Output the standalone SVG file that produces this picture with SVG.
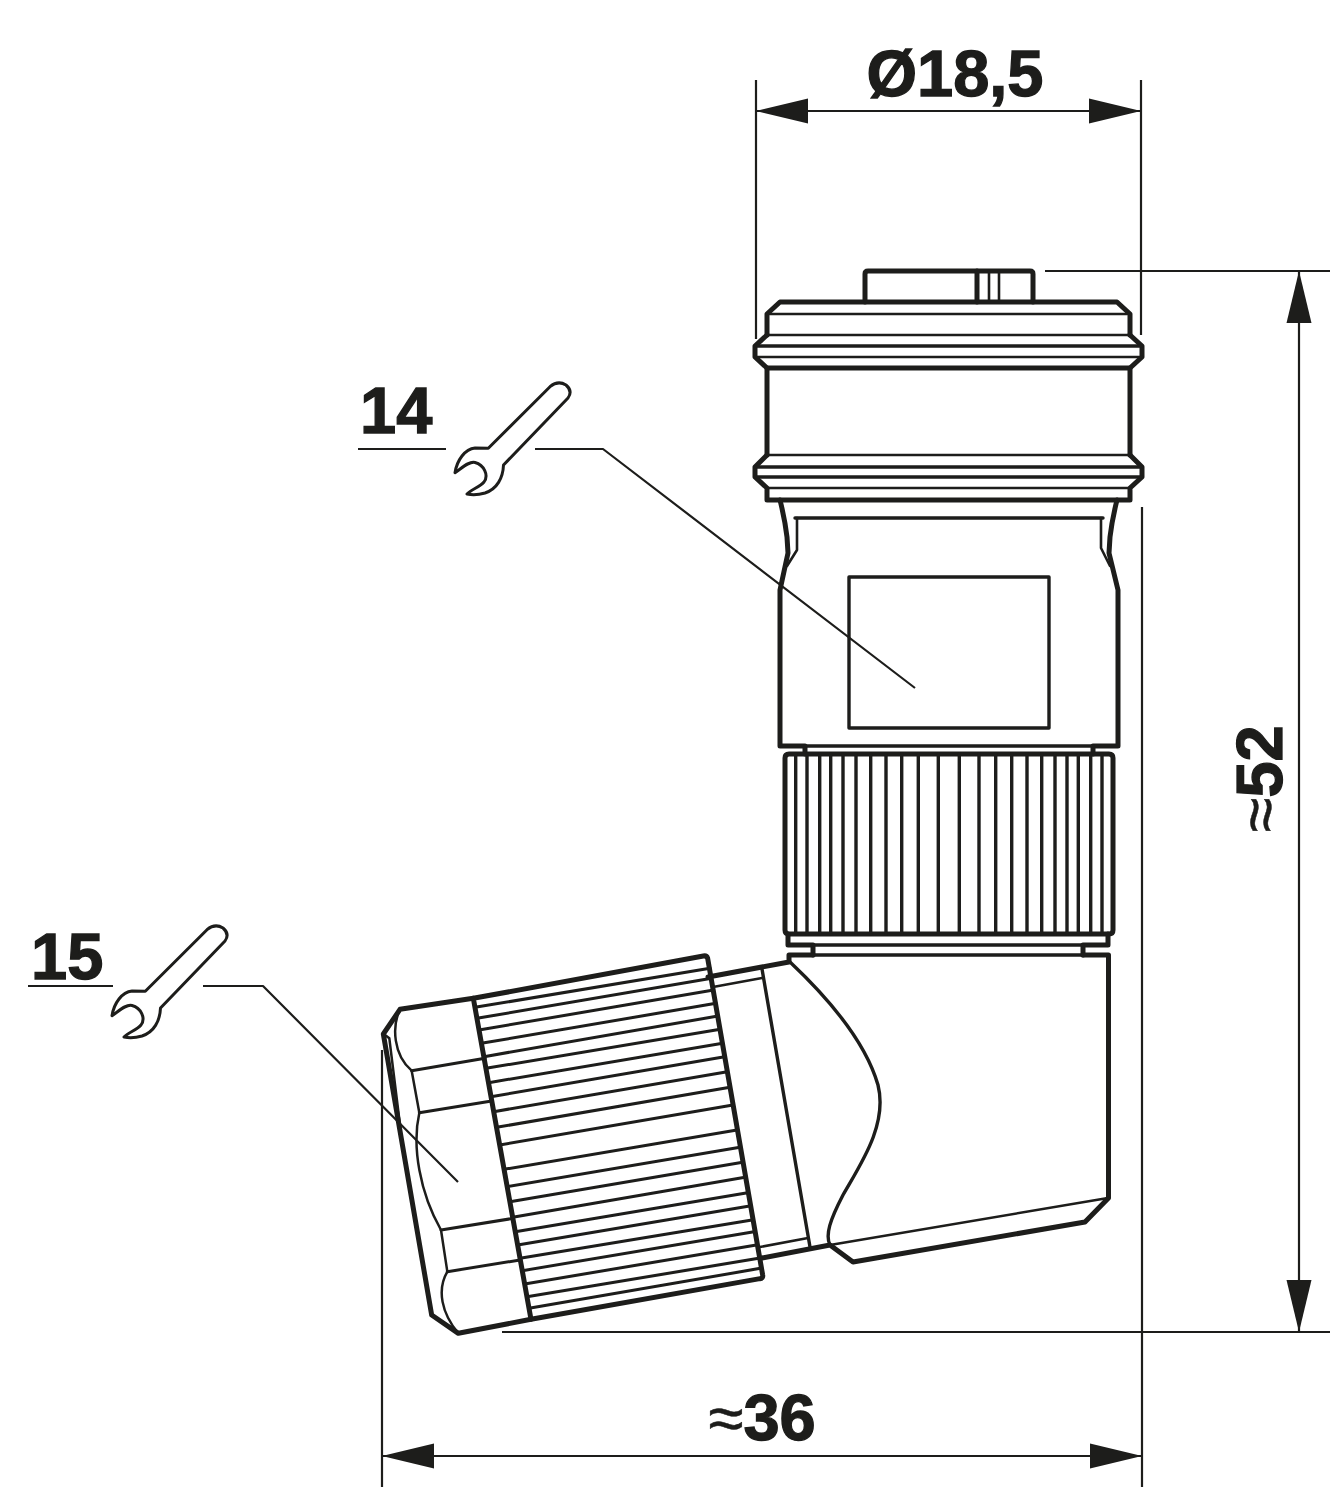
<svg xmlns="http://www.w3.org/2000/svg" width="1343" height="1500" viewBox="0 0 1343 1500">
<style>
text{font-family:"Liberation Sans",Arial,sans-serif;font-weight:700;font-size:65px;fill:#1d1d1b;stroke:#1d1d1b;stroke-width:1.3}
.approx{font-weight:400;font-size:64px;stroke-width:.5}
path,line,rect,polyline{fill:none;stroke:#1d1d1b;stroke-linejoin:round;stroke-linecap:round}
.k{stroke-width:5}
.m{stroke-width:3.4}
.t{stroke-width:2.6}
.w{stroke-width:3}
.d{stroke-width:2.2;stroke-linecap:butt}
.a{fill:#1d1d1b;stroke:none}
.zk{stroke-width:15}
.zm{stroke-width:9}
.zt{stroke-width:7.5}
</style>
<defs>
<path id="wrench" class="w" d="M550,386.7 Q558,380 566,385 Q573,391 568,398 L503.5,465 C503,478 497,489 485,493 C478,495 472,495 467,494 C472,489 480,487 484,482 C489,475 484,465 475,462.5 C469,461 462,468 455,472.7 C457,460 465,449 475,448 L488.3,448.3 Z"/>
<path id="arrowH" class="a" d="M0,0 L52,-12.5 L52,12.5 Z"/>
</defs>

<g id="connector-top">
<path class="k" d="M865,302 V274 Q865,271 868,271 H1030 Q1033,271 1033,274 V302"/>
<line class="k" x1="977" y1="271" x2="977" y2="302"/>
<line class="t" x1="989" y1="271" x2="989" y2="302"/>
<line class="t" x1="999" y1="271" x2="999" y2="302"/>
<path class="k" d="M767,335 V314 L780,302 H1117 L1130,314 V335"/>
<line class="t" x1="767" y1="314" x2="1130" y2="314"/>
<line class="t" x1="767" y1="335" x2="1130" y2="335"/>
<path class="k" d="M767,335 L755,346 V357 L767,368 H1130 L1142,357 V346 L1130,335"/>
<line class="m" x1="755" y1="346" x2="1142" y2="346"/>
<line class="t" x1="755" y1="357" x2="1142" y2="357"/>
<path class="k" d="M767,368 V455 M1130,368 V455"/>
<line class="t" x1="767" y1="455" x2="1130" y2="455"/>
<path class="k" d="M767,455 L755,467 V477 L767,488 V500 H1130 V488 L1142,477 V467 L1130,455"/>
<line class="m" x1="755" y1="467" x2="1142" y2="467"/>
<line class="m" x1="755" y1="477" x2="1142" y2="477"/>
<line class="t" x1="767" y1="488" x2="1130" y2="488"/>
</g>

<g id="connector-neck">
<path class="k" d="M780,500 Q785,520 787,537 L788,553 L780,590 V746 H805 M805,746 V754"/>
<path class="k" d="M1117,500 Q1112,520 1110,537 L1109,553 L1118,590 V746 H1093 M1093,746 V754"/>
<line class="m" x1="805" y1="746" x2="1093" y2="746"/>
<path class="m" d="M795,518 H1103"/>
<path class="t" d="M797,518 V550 L787,566 M1101,518 V548 L1110,566"/>
<rect id="label-plate" class="m" x="849" y="577" width="200" height="151"/>
</g>

<g id="knurled-ring">
<path class="k" d="M785,930 V758 Q785,754 789,754 H1109 Q1113,754 1113,758 V930 Q1113,934 1109,934 H789 Q785,934 785,930 Z"/>
<path class="m" d="M795.700,754V934 M807,754V934 M819.700,754V934 M830.700,754V934 M843,754V934 M856,754V934 M870.700,754V934 M886,754V934 M901.700,754V934 M918.300,754V934 M938.300,754V934 M959.300,754V934 M979,754V934 M995.700,754V934 M1011.700,754V934 M1027,754V934 M1041.700,754V934 M1055,754V934 M1067,754V934 M1078.300,754V934 M1090.700,754V934 M1102,754V934"/>
<path class="k" d="M788,934 V945 H813 V955 M1108,934 V945 H1083 V955"/>
<line class="m" x1="813" y1="945" x2="1083" y2="945"/>
<line class="m" x1="790" y1="955" x2="1083" y2="955"/>
</g>

<g id="elbow">
<path class="k" d="M708,977 L789,962 V955 H813 M1083,955 H1108.500 V1198 L1085,1222 L853,1262 L830,1245 L762,1258"/>
<path class="t" d="M830,1245 L1108,1198"/>
<path class="m" d="M790,962 C825,995 865,1040 878,1085 C888,1125 860,1165 843,1195 C830,1220 825,1235 830,1245"/>
<line class="m" x1="762" y1="969" x2="810" y2="1247"/>
<line class="t" x1="713" y1="987" x2="762" y2="978"/>
<line class="t" x1="760" y1="1247" x2="808" y2="1238"/>
</g>

<g id="cable-nut" transform="translate(370 930) scale(.33333)">
<path class="zk" d="M310,205 L90,238 L40,312 L185,1155 L265,1210 L483,1168"/>
<path class="zk" d="M310,205 L1000,78 Q1010,76 1013,85 L1178,1035 Q1180,1045 1170,1046 L483,1168 Z"/>
<path class="zt" d="M90,238 C65,290 70,375 125,422 L148,548 C125,650 150,790 213,900 L232,1025 C200,1080 215,1150 265,1210 M45,315 L58,325 L90,585"/>
<path class="zm" d="M125,422 L345,385 M148,548 L365,513 M213,900 L430,865 M232,1025 L450,990"/>
<path class="zm" d="M315,232L1020,115 M321,265L1025,145 M327,300L1031,180 M334,340L1038,220 M342,380L1044,258 M348,415L1051,298 M356,458L1058,340 M363,500L1064,380 M371,545L1072,425 M380,592L1080,472 M389,645L1089,525 M402,718L1101,600 M412,770L1110,652 M420,815L1118,697 M428,862L1125,742 M436,905L1133,788 M443,945L1139,828 M450,985L1146,870 M457,1022L1152,905 M464,1062L1159,945 M471,1100L1166,985 M477,1135L1171,1015"/>
</g>

<g id="dimensions">
<line class="d" x1="756" y1="80" x2="756" y2="339"/>
<line class="d" x1="1141" y1="80" x2="1141" y2="335"/>
<line class="d" x1="756" y1="111" x2="1141" y2="111"/>
<use href="#arrowH" transform="translate(756 111)"/>
<use href="#arrowH" transform="translate(1141 111) rotate(180)"/>
<text x="955" y="96" text-anchor="middle">Ø18,5</text>

<line class="d" x1="1045" y1="271" x2="1330" y2="271"/>
<line class="d" x1="502" y1="1332" x2="1330" y2="1332"/>
<line class="d" x1="1299" y1="271" x2="1299" y2="1332"/>
<use href="#arrowH" transform="translate(1299 271) rotate(90)"/>
<use href="#arrowH" transform="translate(1299 1332) rotate(-90)"/>
<text transform="translate(1282 779) rotate(-90)" text-anchor="middle"><tspan class="approx">≈</tspan>52</text>

<line class="d" x1="1142" y1="507" x2="1142" y2="1487"/>
<line class="d" x1="382" y1="1050" x2="382" y2="1487"/>
<line class="d" x1="382" y1="1456" x2="1142" y2="1456"/>
<use href="#arrowH" transform="translate(382 1456)"/>
<use href="#arrowH" transform="translate(1142 1456) rotate(180)"/>
<text x="762" y="1440" text-anchor="middle"><tspan class="approx">≈</tspan>36</text>
</g>

<g id="callout-14">
<text x="360" y="433">14</text>
<line class="d" x1="358" y1="449" x2="446" y2="449"/>
<use href="#wrench"/>
<polyline class="d" points="535,449 603,449 915,688"/>
</g>

<g id="callout-15">
<text x="31" y="979">15</text>
<line class="d" x1="28" y1="986" x2="113" y2="986"/>
<use href="#wrench" transform="translate(-343 543)"/>
<polyline class="d" points="203,986 263,986 458,1182"/>
</g>
</svg>
